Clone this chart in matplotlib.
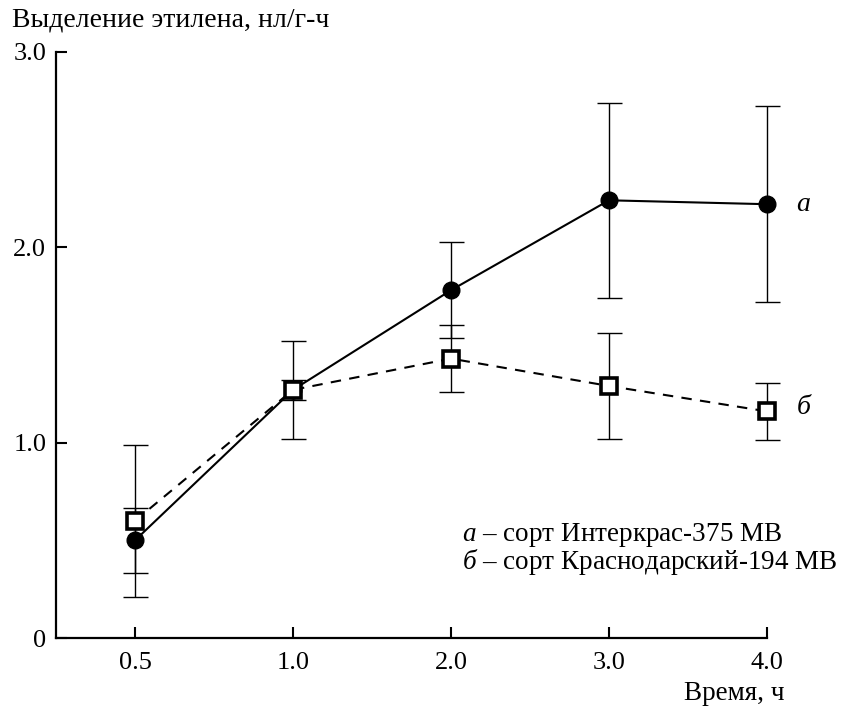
import matplotlib
matplotlib.use("Agg")
import matplotlib.pyplot as plt

plt.rcParams['font.family'] = ['Liberation Serif', 'DejaVu Serif']
plt.rcParams['mathtext.fontset'] = 'custom'
plt.rcParams['mathtext.it'] = 'Liberation Serif:italic'
plt.rcParams['mathtext.rm'] = 'Liberation Serif'

# Данные
hours = ["0.5", "1.0", "2.0", "3.0", "4.0"]
a_vals = [0.50, 1.27, 1.78, 2.24, 2.22]
a_err = [0.165, 0.25, 0.245, 0.50, 0.50]
b_vals = [0.60, 1.27, 1.43, 1.29, 1.16]
b_err = [0.39, 0.05, 0.17, 0.27, 0.145]
y_ticks = [0, 1.0, 2.0, 3.0]
y_labels = ["0", "1.0", "2.0", "3.0"]

x = list(range(len(hours)))

fig = plt.figure(figsize=(8.48, 7.09), dpi=100)
ax = fig.add_axes([0.066, 0.100, 0.8385, 0.827])

# усы погрешностей
for vals, err in [(b_vals, b_err), (a_vals, a_err)]:
    eb = ax.errorbar(x, vals, yerr=err, fmt='none', ecolor='black',
                     elinewidth=1.0, capsize=9, capthick=1.0, zorder=1)
    for art in eb.lines[1] + eb.lines[2]:
        art.set_clip_on(False)

# линии
ax.plot(x, b_vals, '--', color='black', lw=1.5, dashes=(5, 4), zorder=2, clip_on=False)
ax.plot(x, a_vals, '-', color='black', lw=1.5, zorder=2, clip_on=False)

# маркеры
ax.plot(x, b_vals, 's', ms=11, mfc='white', mec='black', mew=2.6, zorder=4, clip_on=False)
ax.plot(x, a_vals, 'o', ms=12, mfc='black', mec='black', zorder=3, clip_on=False)

ax.set_xlim(-0.5, 4)
ax.set_ylim(0, 3.0)
ax.set_xticks(x)
ax.set_xticklabels(hours)
ax.set_yticks(y_ticks)
ax.set_yticklabels(y_labels)
ax.tick_params(direction='in', length=8, width=1.5, labelsize=19, pad=10)
ax.tick_params(axis='y', pad=7)

for side in ['top', 'right']:
    ax.spines[side].set_visible(False)
for side in ['left', 'bottom']:
    ax.spines[side].set_linewidth(1.6)

ax.text(4.23, a_vals[-1], "а", style='italic', fontsize=20, va='center', ha='center')
ax.text(4.23, b_vals[-1] + 0.02, "б", style='italic', fontsize=20, va='center', ha='center')

fig.text(0.014, 0.972, "Выделение этилена, нл/г-ч", fontsize=20, va='center', ha='left')
fig.text(0.925, 0.022, "Время, ч", fontsize=19.5, va='center', ha='right')

fig.text(0.545, 0.246, "$\\it{а}$ – сорт Интеркрас-375 МВ", fontsize=19.5, va='center', ha='left')
fig.text(0.545, 0.207, "$\\it{б}$ – сорт Краснодарский-194 МВ", fontsize=19.5, va='center', ha='left')

fig.savefig("out.png", dpi=100)
